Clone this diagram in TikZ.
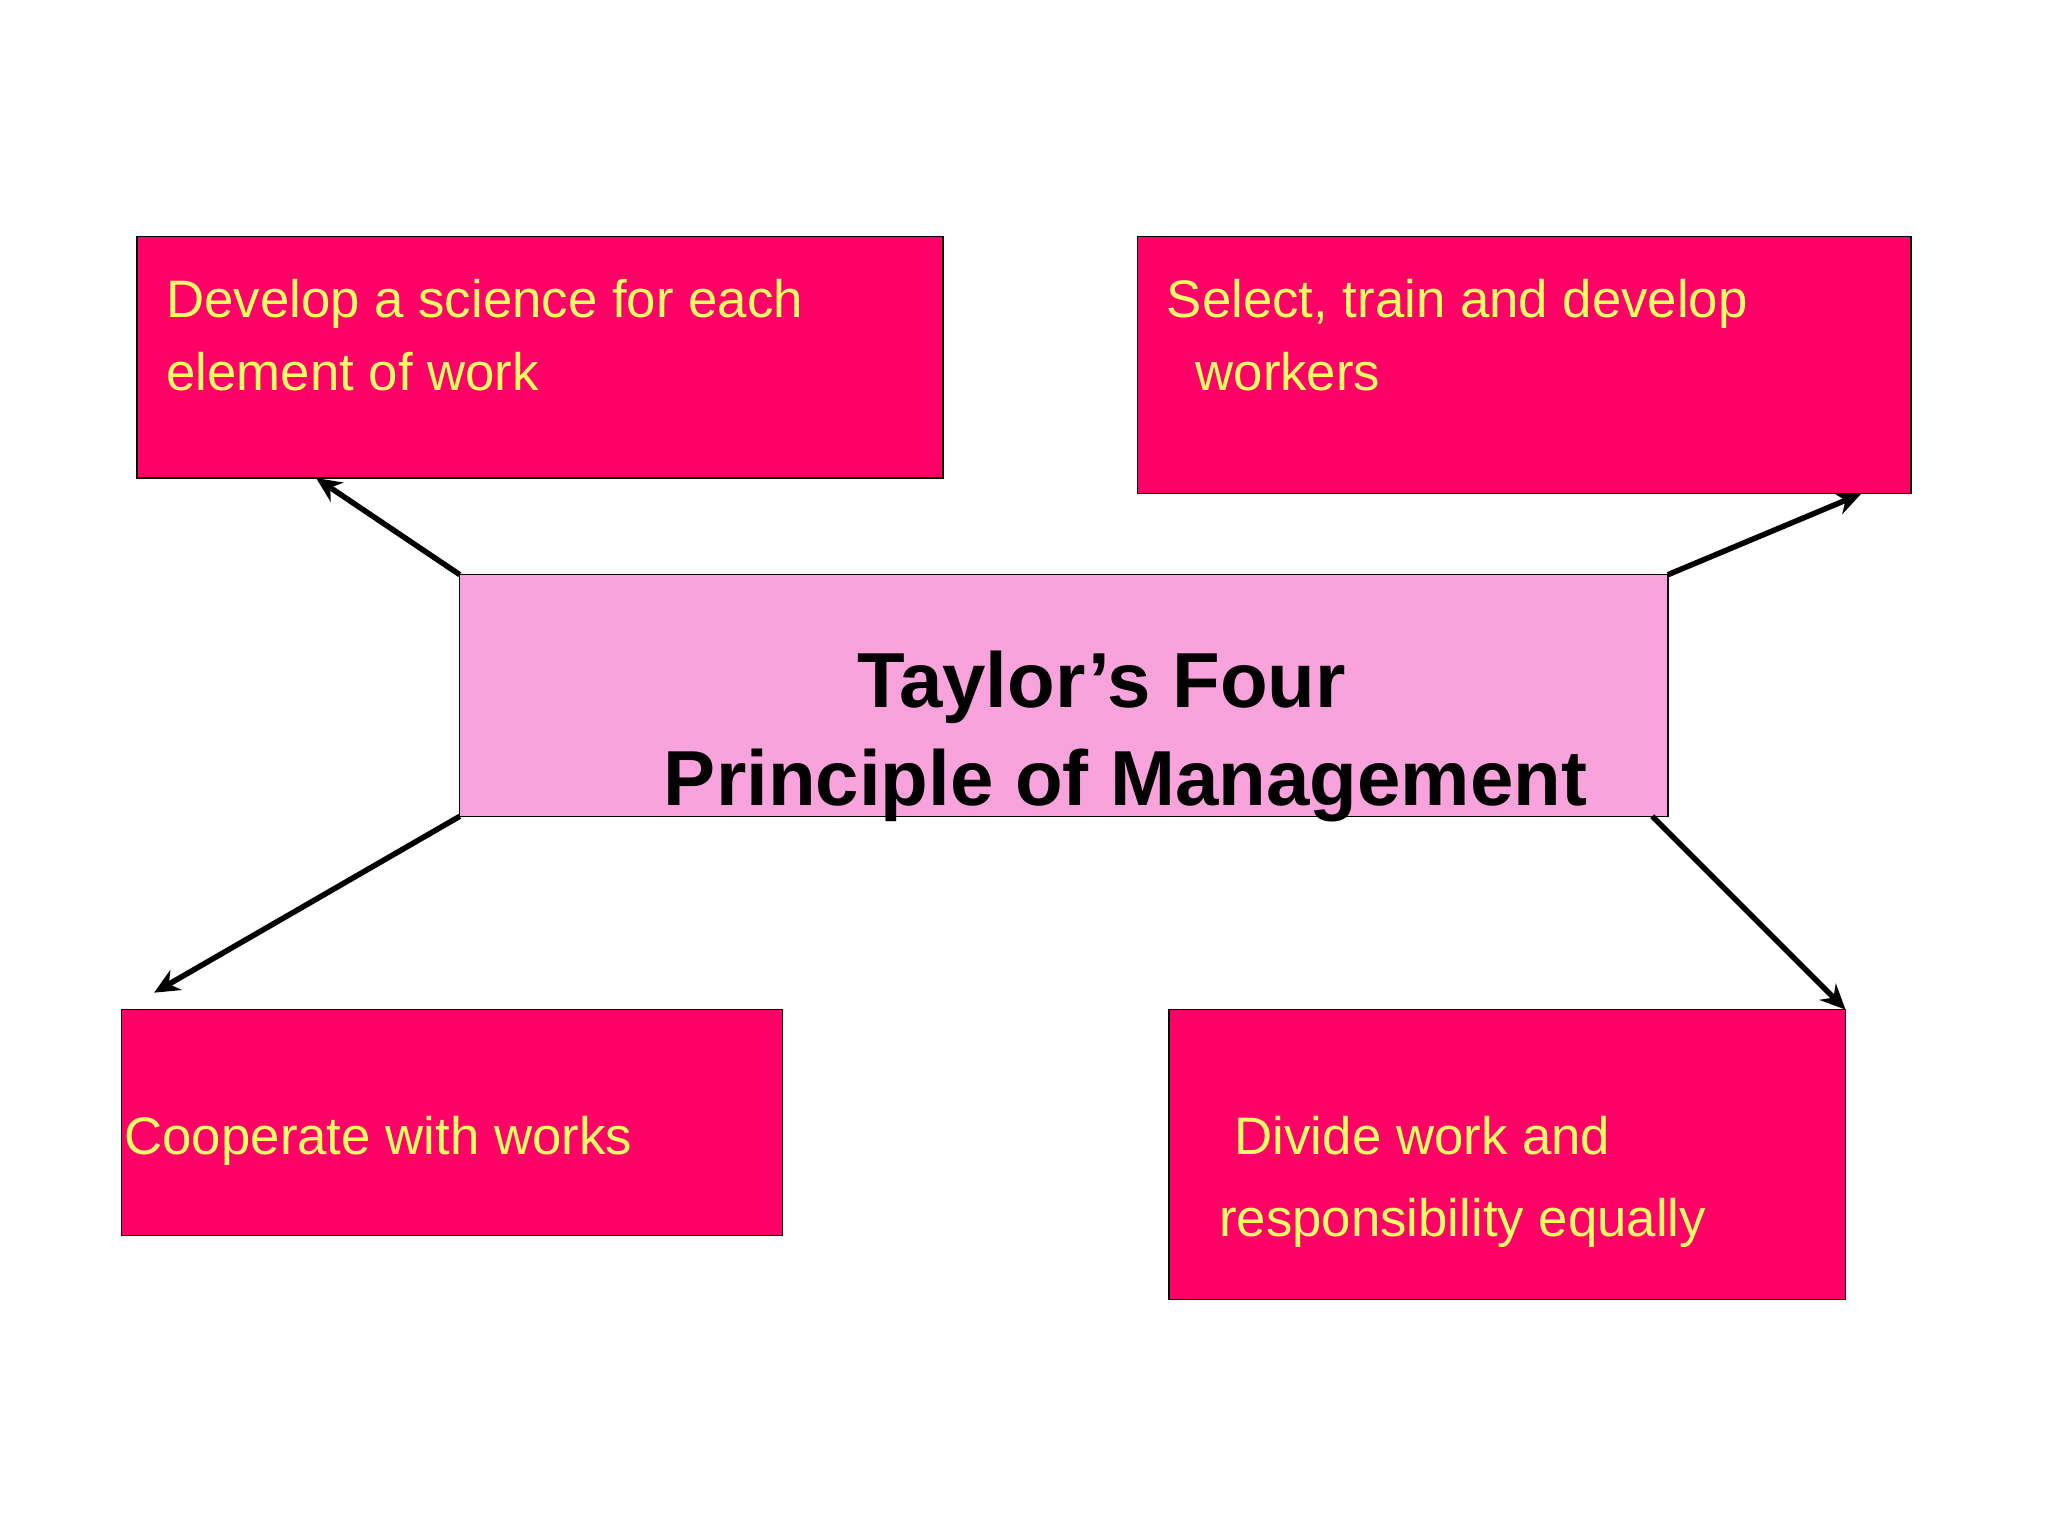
\documentclass[tikz,border=0pt]{standalone}
\usepackage{fontspec}
\setmainfont{Liberation Sans}
\usetikzlibrary{arrows.meta}
\definecolor{boxred}{HTML}{FF0066}
\definecolor{boxpink}{HTML}{F9A3DC}
\definecolor{txty}{HTML}{FFFF66}
\begin{document}
\begin{tikzpicture}[x=0.02cm,y=-0.02cm,
  rbox/.style={draw=black,line width=0.6pt,fill=boxred},
  lbl/.style={anchor=base west,inner sep=0,text=txty,font=\fontsize{23}{27}\selectfont},
  ttl/.style={anchor=base west,inner sep=0,font=\fontsize{34}{40}\selectfont\bfseries},
  arr/.style={line width=2.4pt,-{Stealth[length=11pt,width=10pt]}}]
\useasboundingbox (0,0) rectangle (1568,1176);
\draw[rbox] (105,181) rectangle (722,366);
\draw[rbox] (871,181) rectangle (1463,378);
\draw[rbox] (93,773) rectangle (599,946);
\draw[rbox] (895,773) rectangle (1413,995);
\draw[draw=black,line width=0.6pt,fill=boxpink] (352,440) rectangle (1277,625);
\node[lbl] (a1) at (127,243) {Develop a science for each};
\node[lbl] (a2) at (127,299) {element of work};
\node[lbl] (b1) at (893,243) {Select, train and develop};
\node[lbl] (b2) at (915,299) {workers};
\node[lbl] (c1) at (95,884) {Cooperate with works};
\node[lbl] (d1) at (945,884) {Divide work and};
\node[lbl] (d2) at (933,947) {responsibility equally};
\node[ttl] (t1) at (656,542) {Taylor’s Four};
\node[ttl] (t2) at (508,617) {Principle of Management};
\coordinate (p1) at (352,440); \coordinate (q1) at (242,366);
\coordinate (p2) at (1277,440); \coordinate (q2) at (1425,378);
\coordinate (p3) at (352,625); \coordinate (q3) at (118,760);
\coordinate (p4) at (1265,625); \coordinate (q4) at (1413,773);
\draw[arr] (p1) -- (q1);
\draw[arr] (p2) -- (q2);
\draw[arr] (p3) -- (q3);
\draw[arr] (p4) -- (q4);
\end{tikzpicture}
\end{document}
